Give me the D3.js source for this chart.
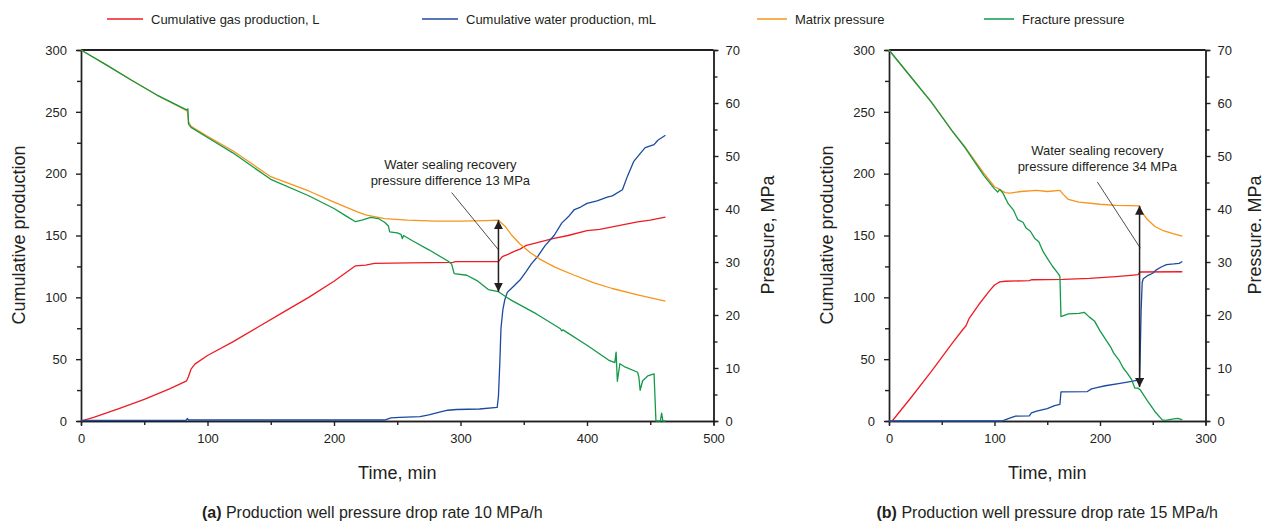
<!DOCTYPE html>
<html lang="en">
<head>
<meta charset="UTF-8">
<title>Production curves</title>
<script src="https://cdn.jsdelivr.net/npm/d3@7"></script>
<style>
    body { margin: 0; background: #fff; }
    svg { font-family: "Liberation Sans", Arial, sans-serif; }
    .axis path, .axis line { stroke: #231f20; stroke-width: 1.4; }
    .axis text { font-size: 13px; fill: #231f20; }
    .title { font-size: 18px; fill: #231f20; }
    .legend text { font-size: 13px; fill: #231f20; }
    .note { font-size: 13px; fill: #231f20; }
    .caption { font-size: 16px; fill: #231f20; }
</style>
</head>
<body>
<svg width="1264" height="521"></svg>
<script>
// ---- data (time in min; production in L / mL; pressure in MPa) ----
const seriesNames = ["Cumulative gas production, L", "Cumulative water production, mL", "Matrix pressure", "Fracture pressure"];

const gasA = [[0,0],[10,3],[30,10],[50,17.5],[70,26],[83.5,32.5],[85,36],[87,42],[90,46],[100,53],[120,64],[140,76],[160,88],[180,100],
  [200,113],[217,125.5],[225,126],[232,127.5],[260,127.8],[294,128.2],[296,128.8],[330,128.8],[333,133],[338,135],[342,137],[347,139],
  [352,142],[360,144],[373,147.5],[385,150],[400,154],[410,155],[420,157],[430,159],[440,161],[450,162.5],[462,164.8]];
const waterA = [[0,0.5],[83,0.5],[84,2],[85,0.8],[240,0.8],[245,2.5],[252,3],[268,3.5],[270,4],[275,5],[285,7.5],[290,8.7],[297,9.3],
  [315,9.7],[329,11],[330,20],[331,45],[332,75],[333.5,90],[335,98],[337,104],[342,109],[347,114],[352,121],[356,127],[361,133],
  [367,142],[374,150],[380,160],[386,166],[390,171],[395,173],[400,176],[408,178],[416,181],[420,182],[428,187],[432,198],[437,210],
  [441,215],[446,221],[453,223.5],[456,227],[462,231]];
const matrixA = [[0,70],[20,67.2],[40,64.3],[60,61.5],[84,58.5],[85,56.5],[87,55.6],[100,53.7],[120,51],[150,46.1],[180,43.4],[200,41.3],
  [218,39.5],[225,38.9],[240,38.2],[258,37.9],[280,37.7],[300,37.7],[320,37.8],[330,37.9],[335,36.8],[340,35.2],[347,33.4],[355,31.8],
  [363,30.5],[375,29],[390,27.5],[405,26.1],[420,25],[440,23.8],[462,22.6]];
const fractureA = [[0,70],[20,67.2],[40,64.3],[60,61.5],[83.5,58.7],[84.5,58.9],[85,56],[87,55.4],[100,53.5],[120,50.6],[150,45.6],
  [180,42.5],[200,40.1],[210,38.6],[217,37.6],[222,37.9],[229,38.4],[235,38.2],[240,37.5],[243,36.8],[244,35.7],[250,35.5],[253,35.2],
  [254,34.4],[255,35],[262,34],[275,32.3],[290,30.2],[293,29.6],[295,27.8],[305,27.5],[313,26.5],[322,24.8],[326,24.6],[330,24.4],
  [340,22.8],[360,20.2],[379,17.4],[380,17.0],[381,17.2],[400,14.3],[417,11.5],[422,11.0],[423,13],[424,7.5],[426,10.8],[430,10.2],
  [440,9.2],[441,8.3],[442,5.8],[444,7.6],[448,8.5],[453,8.9],[454.5,0],[458,0],[459,1.5],[460,0],[462,0]];

const gasB = [[0,0],[3,0],[20,18],[40,40],[60,63],[70,74],[73,77],[76,83],[85,94],[95,105],[100,110],[102,111],[105,112.5],[110,113],
  [133,113.5],[135,114.2],[165,114.5],[190,115.4],[215,116.8],[232,118],[236,118.3],[238,120.5],[278,120.7]];
const waterB = [[0,0],[107,0],[110,1],[115,2.5],[120,4],[133,4.2],[135,6.5],[140,8],[150,10],[157,12.5],[162,13.5],[163,23.5],[188,23.8],
  [192,26],[197,27],[205,28.5],[219,30.5],[230,32],[236,33],[237.5,34],[238,50],[239,90],[240,112],[241,115],[245,117.5],[250,119.5],
  [253,122],[258,124.5],[263,126.5],[270,127],[275,127.5],[278,129]];
const matrixB = [[0,70],[20,65.1],[40,60.2],[60,54.7],[72,51.7],[90,46.7],[100,44.2],[104,43.8],[110,43.1],[115,43],[125,43.3],[140,43.5],
  [150,43.3],[162,43.5],[165,42.8],[170,41.8],[180,41.3],[200,40.9],[215,40.7],[237,40.6],[240,39.3],[245,38],[252,36.7],[260,35.9],
  [270,35.3],[278,34.9]];
const fractureB = [[0,70],[20,65.1],[40,60.2],[60,54.7],[72,51.6],[90,46.3],[100,43.8],[103,43.2],[105,43.7],[108,43],[113,41],[118,39.8],
  [122,38],[127,37.5],[130,36.4],[134,35.8],[138,34.5],[142,33.8],[146,32],[151,30.4],[155,29.2],[160,27.9],[162,27.3],[163,19.7],
  [170,20.2],[180,20.3],[185,20.5],[190,19.6],[195,18.8],[200,17],[205,15.5],[210,14],[213,12.8],[218,11.5],[222,10],[226,9],[230,7.8],
  [233,6.2],[236,6.2],[238,5.9],[245,3.8],[252,1.8],[259,0.2],[262,0.1],[270,0.4],[274,0.5],[278,0.2]];

// annotations: arrow at time t from pressure p1 to p2, text and leader line in data units
const noteA = { t: 330, p1: 37.9, p2: 24.4, tx: 292, ty: [47.6, 44.6], lead: [[293, 43.1], [330, 32.3]],
  text: ["Water sealing recovery", "pressure difference 13 MPa"] };
const noteB = { t: 237.5, p1: 40.6, p2: 6.4, tx: 197.5, ty: [50.1, 47.1], lead: [[197.5, 45.1], [238.3, 32.6]],
  text: ["Water sealing recovery", "pressure difference 34 MPa"] };

const prodTicks = [0, 50, 100, 150, 200, 250, 300];
const presTicks = [0, 10, 20, 30, 40, 50, 60, 70];
const timeTicksA = [0, 100, 200, 300, 400, 500];
const timeTicksB = [0, 100, 200, 300];

const colors = ["#ed1c24", "#1b4aa0", "#f7941d", "#139a48"];

const svg = d3.select("svg");

// arrow heads
const defs = svg.append("defs");
defs.append("marker").attr("id", "head").attr("viewBox", "0 0 10 10")
    .attr("refX", 10).attr("refY", 5).attr("markerWidth", 6).attr("markerHeight", 6)
    .attr("markerUnits", "strokeWidth").attr("orient", "auto-start-reverse")
    .append("path").attr("d", "M0,0 L10,5 L0,10 Z").attr("fill", "#231f20");

function panel(opt) {
    const x = d3.scaleLinear().domain(opt.xDomain).range([opt.left, opt.right]);
    const yL = d3.scaleLinear().domain([0, 300]).range([421, 50]);
    const yR = d3.scaleLinear().domain([0, 70]).range([421, 50]);
    const g = svg.append("g");

    // minor ticks
    const minor = (axis, vals) => axis.tickValues(vals).tickSize(4).tickFormat("");
    g.append("g").attr("class", "axis").attr("transform", "translate(0,421)")
        .call(minor(d3.axisBottom(x), d3.range(opt.xDomain[0] + 50, opt.xDomain[1], 100)));
    g.append("g").attr("class", "axis").attr("transform", `translate(${opt.left},0)`)
        .call(minor(d3.axisLeft(yL), d3.range(25, 300, 50)));
    g.append("g").attr("class", "axis").attr("transform", `translate(${opt.right},0)`)
        .call(minor(d3.axisRight(yR), d3.range(5, 70, 10)));

    // main axes
    g.append("g").attr("class", "axis").attr("transform", "translate(0,421)")
        .call(d3.axisBottom(x).tickValues(opt.xTicks).tickSize(5).tickSizeOuter(0).tickPadding(8));
    g.append("g").attr("class", "axis").attr("transform", `translate(${opt.left},0)`)
        .call(d3.axisLeft(yL).tickValues(prodTicks).tickSize(5).tickSizeOuter(0).tickPadding(9));
    g.append("g").attr("class", "axis").attr("transform", `translate(${opt.right},0)`)
        .call(d3.axisRight(yR).tickValues(presTicks).tickSize(5).tickSizeOuter(0).tickPadding(7));
    g.selectAll(".axis .domain").attr("stroke-width", 1.6);

    // top frame line
    g.append("line").attr("x1", opt.left).attr("x2", opt.right).attr("y1", yL(300)).attr("y2", yL(300))
        .attr("stroke", "#231f20").attr("stroke-width", 1.8);

    const lineL = d3.line().x(d => x(d[0])).y(d => yL(d[1]));
    const lineR = d3.line().x(d => x(d[0])).y(d => yR(d[1]));
    [[opt.gas, lineL], [opt.water, lineL], [opt.matrix, lineR], [opt.fracture, lineR]].forEach((s, i) => {
        g.append("path").attr("d", s[1](s[0])).attr("fill", "none")
            .attr("stroke", colors[i]).attr("stroke-width", 1.3).attr("stroke-linejoin", "round");
    });

    // annotation
    const n = opt.note;
    g.append("line").attr("x1", x(n.lead[0][0])).attr("y1", yR(n.lead[0][1]))
        .attr("x2", x(n.lead[1][0])).attr("y2", yR(n.lead[1][1]))
        .attr("stroke", "#231f20").attr("stroke-width", 0.8);
    g.append("line").attr("x1", x(n.t)).attr("x2", x(n.t)).attr("y1", yR(n.p2)).attr("y2", yR(n.p1))
        .attr("stroke", "#231f20").attr("stroke-width", 1.5)
        .attr("marker-start", "url(#head)").attr("marker-end", "url(#head)");
    n.text.forEach((s, i) => {
        g.append("text").attr("class", "note").attr("x", x(n.tx)).attr("y", yR(n.ty[i]))
            .attr("text-anchor", "middle").text(s);
    });

    // titles
    const cx = (opt.left + opt.right) / 2;
    g.append("text").attr("class", "title").attr("text-anchor", "middle")
        .attr("transform", `translate(${opt.left - 56},235) rotate(-90)`).text("Cumulative production");
    g.append("text").attr("class", "title").attr("text-anchor", "middle")
        .attr("transform", `translate(${opt.right + opt.presGap},235) rotate(-90)`).text(opt.presTitle);
    g.append("text").attr("class", "title").attr("text-anchor", "middle")
        .attr("x", cx).attr("y", 479).text("Time, min");
    const cap = g.append("text").attr("class", "caption").attr("text-anchor", "middle")
        .attr("x", cx - 25 + opt.capShift).attr("y", 518);
    cap.append("tspan").attr("font-weight", "bold").text(opt.capTag);
    cap.append("tspan").text(" " + opt.caption);
}

panel({ left: 81, right: 713.5, xDomain: [0, 500], xTicks: timeTicksA,
    gas: gasA, water: waterA, matrix: matrixA, fracture: fractureA, note: noteA, presGap: 60,
    presTitle: "Pressure, MPa", capTag: "(a)", caption: "Production well pressure drop rate 10 MPa/h", capShift: 0 });
panel({ left: 889, right: 1205.5, xDomain: [0, 300], xTicks: timeTicksB,
    gas: gasB, water: waterB, matrix: matrixB, fracture: fractureB, note: noteB, presGap: 55,
    presTitle: "Pressure. MPa", capTag: "(b)", caption: "Production well pressure drop rate 15 MPa/h", capShift: 25 });

// legend
const legendX = [107, 422, 757, 984];
const lg = svg.append("g").attr("class", "legend");
seriesNames.forEach((name, i) => {
    const w = i < 2 ? 36 : 30;
    lg.append("line").attr("x1", legendX[i]).attr("x2", legendX[i] + w).attr("y1", 19).attr("y2", 19)
        .attr("stroke", colors[i]).attr("stroke-width", 1.5);
    lg.append("text").attr("x", legendX[i] + w + 8).attr("y", 23.5).text(name);
});
</script>
</body>
</html>
